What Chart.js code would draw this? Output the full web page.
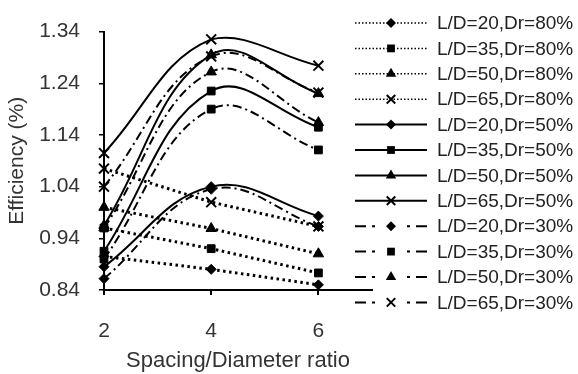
<!DOCTYPE html>
<html>
<head>
<meta charset="utf-8">
<script src="https://cdn.jsdelivr.net/npm/chart.js@4.4.1/dist/chart.umd.min.js"></script>
<style>
  html, body { margin: 0; padding: 0; background: #fff; }
</style>
</head>
<body>
<canvas id="effChart" width="578" height="374"></canvas>
<script>
// spacing/diameter ratio (x values)
const spacing = [2, 4, 6];

// efficiency values, one list per series
const ld20dr80 = [0.905, 0.880, 0.850];
const ld35dr80 = [0.960, 0.920, 0.873];
const ld50dr80 = [1.000, 0.959, 0.910];
const ld65dr80 = [1.075, 1.010, 0.963];
const ld20dr50 = [0.885, 1.040, 0.983];
const ld35dr50 = [0.915, 1.225, 1.155];
const ld50dr50 = [0.965, 1.295, 1.220];
const ld65dr50 = [1.105, 1.325, 1.274];
const ld20dr30 = [0.862, 1.035, 0.963];
const ld35dr30 = [0.900, 1.190, 1.111];
const ld50dr30 = [0.960, 1.262, 1.164];
const ld65dr30 = [1.040, 1.292, 1.222];

const seriesNames = [
    'L/D=20,Dr=80%', 'L/D=35,Dr=80%', 'L/D=50,Dr=80%', 'L/D=65,Dr=80%',
    'L/D=20,Dr=50%', 'L/D=35,Dr=50%', 'L/D=50,Dr=50%', 'L/D=65,Dr=50%',
    'L/D=20,Dr=30%', 'L/D=35,Dr=30%', 'L/D=50,Dr=30%', 'L/D=65,Dr=30%'
];
const seriesValues = [
    ld20dr80, ld35dr80, ld50dr80, ld65dr80,
    ld20dr50, ld35dr50, ld50dr50, ld65dr50,
    ld20dr30, ld35dr30, ld50dr30, ld65dr30
];
const yTicks = [0.84, 0.94, 1.04, 1.14, 1.24, 1.34];
const xTicks = [2, 4, 6];

// marker per L/D, line style per Dr
const markers = ['rectRot', 'rect', 'triangle', 'crossRot'];
const markerSize = { rectRot: 5, rect: 5.5, triangle: 6, crossRot: 7 };
const lineStyles = [
    { dash: [2.5, 3.5], width: 3, tension: 0, kind: 'dot' },      // Dr=80%
    { dash: [], width: 2, tension: 0.4, kind: 'solid' },           // Dr=50%
    { dash: [9, 4, 2, 4], width: 2, tension: 0.4, kind: 'dashdot' } // Dr=30%
];

const datasets = seriesValues.map((vals, i) => {
    const ls = lineStyles[Math.floor(i / 4)];
    const mk = markers[i % 4];
    return {
        label: seriesNames[i],
        data: vals.map((v, j) => ({ x: spacing[j], y: v })),
        borderColor: '#000',
        backgroundColor: '#000',
        borderWidth: ls.width,
        borderDash: ls.dash,
        tension: ls.tension,
        pointStyle: mk,
        pointRadius: markerSize[mk],
        pointBorderWidth: mk === 'crossRot' ? 2 : 1,
        pointBackgroundColor: '#000',
        pointBorderColor: '#000',
        clip: false,
        _kind: ls.kind
    };
});

// draw one marker for the side legend
function drawMarker(c, style, x, y, r) {
    c.fillStyle = '#000';
    c.strokeStyle = '#000';
    c.setLineDash([]);
    c.beginPath();
    if (style === 'rectRot') {
        c.moveTo(x, y - r); c.lineTo(x + r, y); c.lineTo(x, y + r); c.lineTo(x - r, y);
        c.closePath(); c.fill();
    } else if (style === 'rect') {
        const s = r * Math.SQRT1_2;
        c.rect(x - s, y - s, 2 * s, 2 * s); c.fill();
    } else if (style === 'triangle') {
        c.moveTo(x, y - r);
        c.lineTo(x + r * 0.866, y + r * 0.5);
        c.lineTo(x - r * 0.866, y + r * 0.5);
        c.closePath(); c.fill();
    } else {
        const s = r * Math.SQRT1_2;
        c.lineWidth = 2;
        c.moveTo(x - s, y - s); c.lineTo(x + s, y + s);
        c.moveTo(x + s, y - s); c.lineTo(x - s, y + s);
        c.stroke();
    }
}

const sideLegend = {
    id: 'sideLegend',
    afterDraw(chart) {
        const c = chart.ctx;
        const x0 = 355, x1 = 427, xm = 391, textX = 437;
        chart.data.datasets.forEach((ds, i) => {
            const y = 23 + i * 25.4;
            c.save();
            c.strokeStyle = '#000';
            if (ds._kind === 'dot') {
                c.lineWidth = 1.5;
                c.setLineDash([1.5, 2]);
                c.beginPath(); c.moveTo(x0, y); c.lineTo(x1, y); c.stroke();
            } else if (ds._kind === 'solid') {
                c.lineWidth = 2;
                c.beginPath(); c.moveTo(x0, y); c.lineTo(x1, y); c.stroke();
            } else {
                c.lineWidth = 2;
                c.setLineDash([11, 6, 3, 100]);
                c.beginPath(); c.moveTo(x0, y); c.lineTo(xm, y); c.stroke();
                c.beginPath(); c.moveTo(x1, y); c.lineTo(xm, y); c.stroke();
            }
            drawMarker(c, ds.pointStyle, xm, y, ds.pointStyle === 'crossRot' ? 6 : ds.pointRadius);
            c.fillStyle = '#222';
            c.font = '19px Arial, "Liberation Sans", sans-serif';
            c.textBaseline = 'middle';
            c.textAlign = 'left';
            c.fillText(ds.label, textX, y + 1);
            c.restore();
        });
    }
};

const config = {
    type: 'line',
    data: { datasets: datasets },
    options: {
        responsive: false,
        animation: false,
        layout: { padding: { top: 17, right: 206, left: 0, bottom: 0 } },
        plugins: {
            legend: { display: false },
            tooltip: { enabled: false }
        },
        scales: {
            x: {
                type: 'linear',
                min: 2,
                max: 7,
                afterBuildTicks(scale) {
                    scale.ticks = xTicks.map(v => ({ value: v }));
                },
                afterFit(scale) { scale.height = 84; },
                grid: {
                    drawOnChartArea: false,
                    drawTicks: true,
                    tickLength: 5,
                    color: '#000',
                    lineWidth: 2
                },
                border: { color: '#000', width: 2 },
                ticks: {
                    color: '#333',
                    padding: 24,
                    font: { family: 'Arial, "Liberation Sans", sans-serif', size: 21 }
                },
                title: {
                    display: true,
                    text: 'Spacing/Diameter ratio',
                    color: '#333',
                    padding: { top: 0, bottom: 0 },
                    font: { family: 'Arial, "Liberation Sans", sans-serif', size: 22 }
                }
            },
            y: {
                type: 'linear',
                min: 0.84,
                max: 1.34,
                afterBuildTicks(scale) {
                    scale.ticks = yTicks.map(v => ({ value: v }));
                },
                afterFit(scale) { scale.width = 104; },
                grid: {
                    drawOnChartArea: false,
                    drawTicks: true,
                    tickLength: 5,
                    color: '#000',
                    lineWidth: 1.5
                },
                border: { color: '#000', width: 2 },
                ticks: {
                    color: '#333',
                    padding: 19,
                    callback: v => Number(v).toFixed(2),
                    font: { family: 'Arial, "Liberation Sans", sans-serif', size: 21 }
                },
                title: {
                    display: true,
                    text: 'Efficiency (%)',
                    color: '#333',
                    padding: { top: 5, bottom: 0 },
                    font: { family: 'Arial, "Liberation Sans", sans-serif', size: 21 }
                }
            }
        }
    },
    plugins: [sideLegend]
};

const ctx = document.getElementById('effChart').getContext('2d');
new Chart(ctx, config);
</script>
</body>
</html>
